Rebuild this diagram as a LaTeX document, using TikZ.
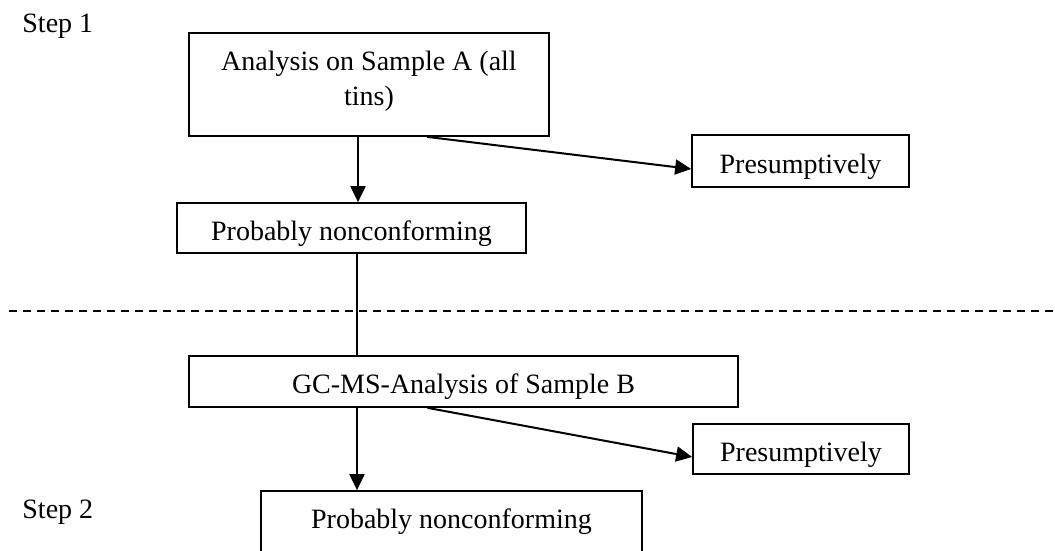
\documentclass[tikz,border=0pt]{standalone}
\usepackage{fontspec}
\setmainfont{Liberation Serif}
\usetikzlibrary{arrows.meta}

\begin{document}
\begin{tikzpicture}[x=0.5pt, y=-0.5pt, font=\fontsize{14}{17.5}\selectfont]
	\clip (0, 0) rectangle (1055, 551);
	\begin{scope}
		\tikzstyle{every node}=[inner sep=0pt]
		\tikzstyle{box}=[draw, line width=0.85pt, align=center, text height=13pt, text depth=1pt]
		\tikzstyle{arr}=[line width=1pt, -{Triangle[length=8pt, width=7.5pt]}]

		\node (st1) [anchor=base west] at (22, 33)  {Step 1};
		\node (st2) [anchor=base west] at (22, 518) {Step 2};

		\node (anaA)  [box, minimum width=180pt, minimum height=51.5pt, text height=22.5pt] at (369, 84.5) {Analysis on Sample A (all\\tins)};
		\node (pres1) [box, minimum width=108.5pt, minimum height=26pt] at (800.5, 161) {Presumptively};
		\node (prob1) [box, minimum width=174.5pt, minimum height=25pt] at (351.5, 228) {Probably nonconforming};

		\node (gcB)   [box, minimum width=274.5pt, minimum height=25.5pt] at (463.5, 381.5) {GC-MS-Analysis of Sample B};
		\node (pres2) [box, minimum width=108pt, minimum height=25pt] at (801, 449) {Presumptively};
		\node (prob2) [box, minimum width=190.5pt, minimum height=39.5pt, text depth=15.5pt] at (451.5, 530.5) {Probably nonconforming};

		\coordinate (sepL) at (9, 311);
		\coordinate (sepR) at (1055, 311);
		\draw [line width=0.85pt, dash pattern=on 4pt off 3pt] (sepL) to (sepR);

		\draw [arr] ([xshift=-5.5pt]anaA.south) to ([xshift=-5.5pt]anaA.south |- prob1.north);
		\draw [arr] ([xshift=29pt]anaA.south) to ([yshift=-4pt]pres1.west);

		\draw [line width=0.75pt] ([xshift=2.75pt]prob1.south) to ([xshift=2.75pt]prob1.south |- gcB.north);

		\draw [arr] ([xshift=-53.25pt]gcB.south) to ([xshift=-53.25pt]gcB.south |- prob2.north);
		\draw [arr] ([xshift=-18pt]gcB.south) to ([yshift=-4pt]pres2.west);
	\end{scope}
\end{tikzpicture}
\end{document}
